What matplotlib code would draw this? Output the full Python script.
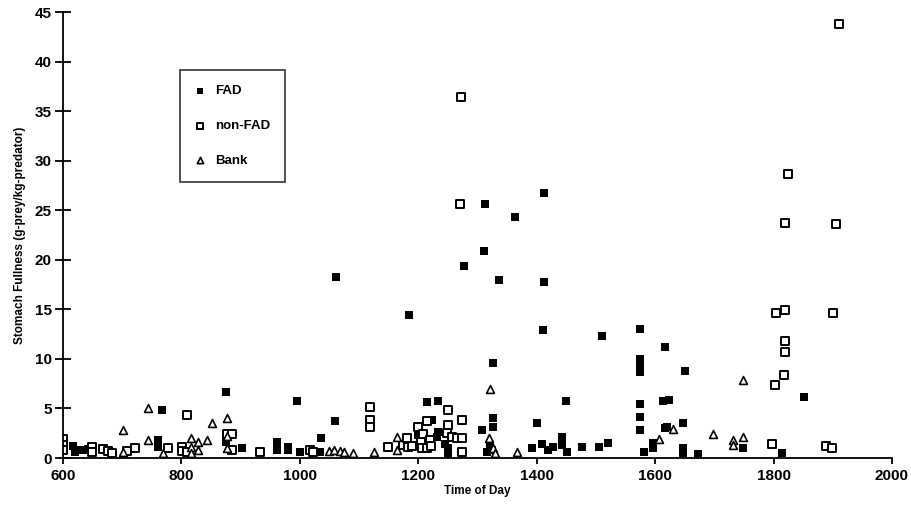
import numpy as np
import matplotlib
matplotlib.use('Agg')
from matplotlib import pyplot as plt

plt.rcParams['font.family'] = ['Liberation Sans', 'DejaVu Sans']
plt.rcParams['font.weight'] = 'bold'

# FAD (filled squares)
fad_x = [617, 620, 628, 635, 642, 760, 760, 767, 876, 876, 902,
         961, 961, 980, 980, 995, 1000, 1034, 1036, 1059, 1061,
         1184, 1199, 1214, 1223, 1231, 1233, 1233, 1245, 1250, 1250, 1274, 1278,
         1307, 1311, 1312, 1316, 1321, 1324, 1326, 1326, 1326, 1336, 1363,
         1392, 1400, 1409, 1410, 1412, 1413, 1419, 1427, 1442, 1442, 1450, 1451,
         1476, 1506, 1510, 1520,
         1575, 1575, 1575, 1575, 1575, 1575, 1575, 1581, 1596, 1596,
         1614, 1616, 1616, 1620, 1623, 1647, 1647, 1648, 1650, 1672, 1748, 1815, 1851]
fad_y = [1.2, 0.6, 0.8, 0.8, 0.9, 1.8, 1.1, 4.8, 6.7, 1.6, 1.0,
         1.6, 0.8, 1.1, 0.8, 5.8, 0.6, 0.6, 2.0, 3.7, 18.3,
         14.4, 2.3, 5.65, 3.8, 2.1, 5.75, 2.6, 1.4, 1.0, 0.4, 3.7, 19.4,
         2.8, 20.9, 25.6, 0.6, 1.3, 0.8, 9.6, 4.0, 3.1, 18.0, 24.3,
         1.0, 3.5, 1.4, 12.9, 17.8, 26.7, 0.8, 1.1, 2.1, 1.3, 5.75, 0.6,
         1.1, 1.1, 12.3, 1.5,
         13.0, 10.0, 9.3, 8.7, 5.4, 4.1, 2.8, 0.6, 1.5, 1.0,
         5.75, 11.2, 3.0, 3.1, 5.85, 1.0, 0.5, 3.5, 8.8, 0.4, 1.0, 0.5, 6.2]

# non-FAD (open squares)
nonfad_x = [600, 600, 600, 649, 649, 667, 676, 683, 709, 722, 777, 801, 801, 809, 809,
            877, 885, 885, 932, 1017, 1022,
            1118, 1118, 1118, 1149, 1174, 1181, 1182, 1189, 1199, 1204, 1206, 1208,
            1214, 1215, 1220, 1222, 1248, 1250, 1250, 1257, 1265, 1270, 1273,
            1274, 1274, 1274,
            1798, 1803, 1805, 1817, 1819, 1819, 1819, 1820, 1824, 1888, 1898,
            1901, 1905, 1910]
nonfad_y = [1.9, 1.3, 0.8, 1.1, 0.6, 0.9, 0.7, 0.5, 0.7, 1.0, 1.0, 1.1, 0.7, 4.3, 0.6,
            2.4, 2.4, 0.8, 0.6, 0.8, 0.6,
            5.1, 3.8, 3.1, 1.1, 1.3, 2.0, 1.1, 1.2, 3.1, 1.6, 1.0, 2.4,
            3.7, 1.0, 1.8, 1.2, 2.5, 4.8, 3.3, 2.1, 2.0, 25.6, 36.4,
            3.8, 2.0, 0.6,
            1.4, 7.4, 14.6, 8.4, 14.9, 11.8, 10.7, 23.7, 28.7, 1.2, 1.0,
            14.6, 23.6, 43.8]

# Bank (open triangles)
bank_x = [701, 701, 743, 743, 769, 816, 816, 816, 828, 828, 843, 851, 877, 877, 877,
          1050, 1058, 1068, 1074, 1090, 1125, 1165, 1165, 1319, 1321, 1326, 1330, 1366,
          1606, 1631, 1697, 1731, 1731, 1748, 1749]
bank_y = [2.8, 0.6, 5.0, 1.8, 0.5, 2.0, 1.1, 0.5, 1.6, 0.8, 1.8, 3.5, 4.0, 2.2, 1.0,
          0.7, 0.8, 0.7, 0.6, 0.5, 0.6, 2.1, 0.8, 2.0, 7.0, 1.0, 0.5, 0.6,
          1.9, 2.9, 2.4, 1.8, 1.3, 2.1, 7.9]

fig = plt.figure(figsize=(9.12, 5.22), dpi=100)
ax = fig.add_axes([0.069, 0.1226, 0.909, 0.8544])

ax.scatter(fad_x, fad_y, marker='s', s=32, c='black', linewidths=0, label='FAD')
ax.scatter(nonfad_x, nonfad_y, marker='s', s=30, facecolors='white',
           edgecolors='black', linewidths=1.4, label='non-FAD')
ax.scatter(bank_x, bank_y, marker='^', s=32, facecolors='white',
           edgecolors='black', linewidths=1.2, label='Bank')

ax.set_xlim(600, 2000)
ax.set_ylim(0, 45)
ax.set_xticks(np.arange(600, 2001, 200))
ax.set_yticks(np.arange(0, 46, 5))
ax.spines['top'].set_visible(False)
ax.spines['right'].set_visible(False)
ax.spines['left'].set_linewidth(1.3)
ax.spines['bottom'].set_linewidth(1.3)
ax.tick_params(axis='y', direction='inout', length=12, width=1.3, labelsize=11, pad=2)
ax.tick_params(axis='x', direction='out', length=4, width=1.3, labelsize=11, pad=4)
ax.set_xlabel('Time of Day', fontsize=8.5, fontweight='bold', labelpad=1)
ax.set_ylabel('Stomach Fullness (g-prey/kg-predator)', fontsize=8.5, fontweight='bold', labelpad=6)

leg = ax.legend(loc='upper left', bbox_to_anchor=(0.141, 0.87), frameon=True,
                fancybox=False, edgecolor='black', fontsize=9.5, labelspacing=1.7,
                handlelength=0.8, handletextpad=0.7, borderpad=1.15, borderaxespad=0,
                scatterpoints=1, markerscale=0.8)
leg.get_frame().set_linewidth(1.2)

plt.savefig('out.png', dpi=100)
